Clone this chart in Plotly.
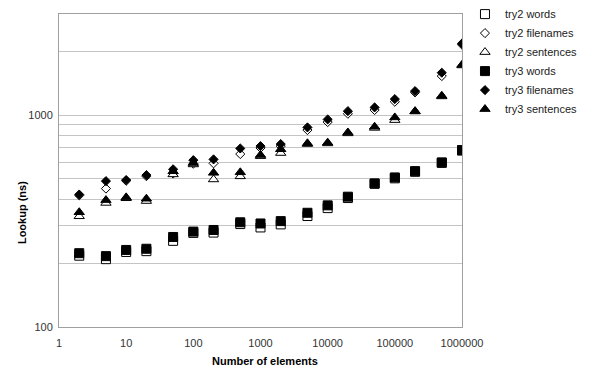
import plotly.graph_objects as go

n_elements = [2, 5, 10, 20, 50, 100, 200, 500, 1000, 2000, 5000, 10000,
              20000, 50000, 100000, 200000, 500000, 1000000]

try2_words = [217, 209, 226, 228, 255, 278, 279, 306, 295, 305, 334, 364,
              406, 474, 503, 540, 595, 680]
try2_filenames = [418, 450, 490, 515, 530, 590, 592, 655, 700, 714, 850, 927,
                  1015, 1057, 1156, 1280, 1528, 2150]
try2_sentences = [333, 385, 405, 393, 525, 585, 497, 514, 640, 662, 730, 735,
                  820, 870, 947, 1040, 1225, 1715]
try3_words = [223, 216, 231, 234, 266, 282, 287, 312, 308, 316, 346, 375,
              412, 476, 508, 544, 598, 684]
try3_filenames = [422, 488, 494, 521, 555, 613, 618, 696, 714, 730, 875, 954,
                  1044, 1087, 1190, 1298, 1585, 2178]
try3_sentences = [348, 397, 409, 403, 543, 594, 534, 537, 648, 690, 736, 741,
                  828, 881, 975, 1044, 1233, 1727]

y_grid = [100, 200, 300, 400, 500, 600, 700, 800, 900, 1000, 2000, 3000]
y_labels = ["100", "", "", "", "", "", "", "", "", "1000", "", ""]
x_ticks = [1, 10, 100, 1000, 10000, 100000, 1000000]
x_labels = ["1", "10", "100", "1000", "10000", "100000", "1000000"]

FONT = "Liberation Sans, Arial, sans-serif"

series = [
    ("try2 words", try2_words, "square", "white", 9),
    ("try2 filenames", try2_filenames, "diamond", "white", 7),
    ("try2 sentences", try2_sentences, "triangle-up", "white", 9),
    ("try3 words", try3_words, "square", "black", 9),
    ("try3 filenames", try3_filenames, "diamond", "black", 7),
    ("try3 sentences", try3_sentences, "triangle-up", "black", 9),
]

fig = go.Figure()
for name, vals, sym, fill, size in series:
    fig.add_trace(go.Scatter(
        x=n_elements, y=vals, name=name, mode="markers",
        marker=dict(symbol=sym, size=size, color=fill,
                    line=dict(color="black", width=1)),
    ))

# page body has an 8px default margin, so the figure is offset by 8px
fig.update_layout(
    width=600, height=375,
    margin=dict(l=51, r=146, t=6, b=56, autoexpand=False),
    paper_bgcolor="white", plot_bgcolor="white",
    font=dict(family=FONT, size=11, color="#222"),
    showlegend=True,
    legend=dict(x=1.0074, y=1.046, xanchor="left", yanchor="top",
                font=dict(family=FONT, size=11, color="#222"),
                bgcolor="rgba(0,0,0,0)", itemwidth=30),
    xaxis=dict(type="log", range=[0, 6], tickvals=x_ticks, ticktext=x_labels,
               showgrid=False, showline=True, linecolor="#a0a0a0", linewidth=1,
               mirror=True, ticks="", zeroline=False, ticklabelstandoff=6,
               tickfont=dict(family=FONT, size=11, color="#333")),
    yaxis=dict(type="log", range=[2, 3.4771], tickvals=y_grid, ticktext=y_labels,
               showgrid=True, gridcolor="#c4c4c4", gridwidth=1,
               showline=True, linecolor="#a0a0a0", linewidth=1, mirror=True,
               ticks="", zeroline=False, ticklabelstandoff=3,
               tickfont=dict(family=FONT, size=11, color="#333")),
    annotations=[
        dict(text="<b>Lookup (ns)</b>", xref="paper", yref="paper",
             x=-0.0918, y=0.364, textangle=-90, showarrow=False,
             xanchor="center", yanchor="middle",
             font=dict(family=FONT, size=11, color="black")),
        dict(text="<b>Number of elements</b>", xref="paper", yref="paper",
             x=0.511, y=-0.109, showarrow=False,
             xanchor="center", yanchor="middle",
             font=dict(family=FONT, size=11, color="black")),
    ],
)

fig.write_html("out.html")
